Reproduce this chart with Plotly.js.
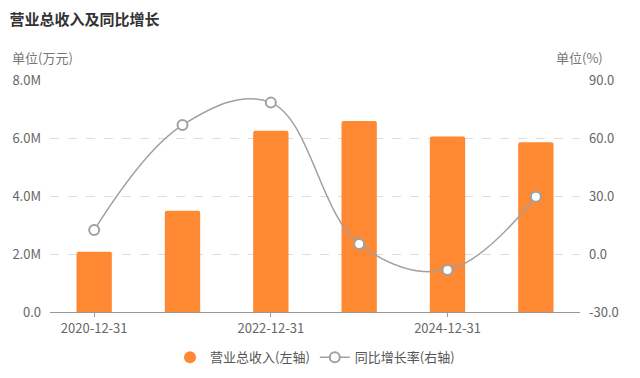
<!DOCTYPE html>
<html>
<head>
<meta charset="utf-8">
<script src="https://cdn.plot.ly/plotly-3.0.1.min.js"></script>
<style>html,body{margin:0;padding:0;background:#fff;}#chart{width:640px;height:378px;}</style>
</head>
<body>
<div id="chart"></div>
<script>
const categories = ["2020-12-31","2021-12-31","2022-12-31","2023-12-31","2024-12-31","2025-12-31"];
const revenue = [2080000, 3490000, 6250000, 6590000, 6050000, 5850000];
const growth = [12.4, 66.7, 78.3, 5.2, -8.3, 29.6];
const xTickLabels = ["2020-12-31","2022-12-31","2024-12-31"];
const leftTickVals = [0, 2000000, 4000000, 6000000, 8000000];
const leftTickText = ["0.0","2.0M","4.0M","6.0M","8.0M"];
const rightTickVals = [-30, 0, 30, 60, 90];
const rightTickText = ["-30.0","0.0","30.0","60.0","90.0"];

const font = "'Noto Sans CJK SC', 'Noto Sans', sans-serif";
const orange = "#FF8833";
const grey = "#A0A0A0";

const traces = [
  {
    type: "bar", x: categories, y: revenue, name: "营业总收入(左轴)",
    marker: {color: orange, cornerradius: 2}, width: 0.4, showlegend: false,
    hoverinfo: "skip"
  },
  {
    type: "scatter", mode: "markers", x: [null], y: [null], name: "营业总收入(左轴)",
    marker: {color: orange, size: 12, symbol: "circle"}, showlegend: true
  },
  {
    type: "scatter", mode: "lines+markers", x: categories, y: growth, yaxis: "y2",
    name: "同比增长率(右轴)",
    line: {color: grey, width: 1.5, shape: "spline", smoothing: 1.1},
    marker: {color: "#ffffff", size: 10, line: {color: grey, width: 2}}
  }
];

const layout = {
  width: 640, height: 378,
  margin: {l: 50, r: 60, t: 80, b: 66, autoexpand: false},
  paper_bgcolor: "#fff", plot_bgcolor: "#fff",
  font: {family: font, size: 12, color: "#666"},
  title: {text: "<b>营业总收入及同比增长</b>", x: 0.015, xanchor: "left", y: 0.947, yanchor: "middle",
          font: {family: font, size: 15, color: "#333"}},
  xaxis: {
    type: "category", range: [-0.5, 5.5],
    tickvals: xTickLabels, ticktext: xTickLabels,
    showline: true, linecolor: "#999", linewidth: 1,
    ticks: "outside", ticklen: 4, tickcolor: "#999",
    showgrid: false, zeroline: false,
    tickfont: {size: 13, color: "#666"}
  },
  yaxis: {
    range: [0, 8000000], tickvals: leftTickVals, ticktext: leftTickText,
    showgrid: true, gridcolor: "#dddddd", griddash: "dash", gridwidth: 1,
    zeroline: false, showline: false, ticks: "", ticklabelstandoff: 8,
    tickfont: {size: 13, color: "#666"}
  },
  yaxis2: {
    overlaying: "y", side: "right", range: [-30, 90],
    tickvals: rightTickVals, ticktext: rightTickText,
    showgrid: false, zeroline: false, showline: false, ticks: "", ticklabelstandoff: 8,
    tickfont: {size: 13, color: "#666"}
  },
  legend: {
    orientation: "h", x: 0.5, xanchor: "center", yref: "container", y: 0.055, yanchor: "middle",
    font: {size: 13, color: "#555"}, itemwidth: 30
  },
  annotations: [
    {text: "单位(万元)", xref: "paper", yref: "paper", x: -0.075, y: 1.099, xanchor: "left", yanchor: "middle",
     showarrow: false, font: {size: 13, color: "#777"}},
    {text: "单位(%)", xref: "paper", yref: "paper", x: 1.047, y: 1.099, xanchor: "right", yanchor: "middle",
     showarrow: false, font: {size: 13, color: "#777"}}
  ]
};

Plotly.newPlot("chart", traces, layout, {displayModeBar: false, staticPlot: true});
</script>
</body>
</html>
